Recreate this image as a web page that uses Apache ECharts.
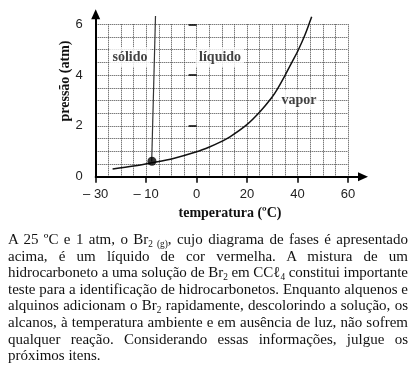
<!DOCTYPE html>
<html><head><meta charset="utf-8">
<script src="https://cdn.jsdelivr.net/npm/echarts@6/dist/echarts.min.js"></script>
<style>
html,body{margin:0;padding:0;background:#fff;width:410px;height:372px;overflow:hidden}
#chart{position:absolute;left:0;top:0;width:410px;height:372px}
#text{position:absolute;left:8px;top:231px;width:400px;font-family:'Liberation Serif','Times New Roman',serif;font-size:15px;line-height:16.6px;color:#111}
.ln{white-space:nowrap;width:400px;height:16.6px}
.ln span{display:inline-block;white-space:nowrap}
sub{font-size:0.62em;line-height:0;vertical-align:-0.3em}
</style></head><body>
<div id="chart"></div>
<div id="text"></div>
<script>
// ---- data ----
const xTickValues = [-40, -20, 0, 20, 40, 60];
const xTickLabels = ['– 30', '– 10', '0', '20', '40', '60'];
const yTickValues = [0, 2, 4, 6];
const vaporCurve = [
  [-33.3, 0.30], [-25, 0.42], [-17.7, 0.55], [-9.2, 0.72], [0, 0.98],
  [5.3, 1.18], [9.3, 1.36], [13.2, 1.57], [19.8, 2.04], [25.1, 2.56],
  [29.8, 3.12], [32, 3.45], [35, 3.98], [38, 4.55], [40.3, 4.99], [43, 5.6], [45.6, 6.30]
];
const fusionLine = [[-17.8, 0.6], [-16.3, 6.33]];
const triplePoint = [[-17.7, 0.61]];
const regionNames = ['sólido', 'líquido', 'vapor'];
const regionPos = [[-26.4, 4.71], [9.3, 4.71], [40.6, 3.02]];
const xTitle = 'temperatura (ºC)';
const yTitle = 'pressão (atm)';
const paragraphLines = [
  'A 25 ºC e 1 atm, o Br<sub>2 (g)</sub>, cujo diagrama de fases é apresentado',
  'acima, é um líquido de cor vermelha. A mistura de um',
  'hidrocarboneto a uma solução de Br<sub>2</sub> em CCℓ<sub>4</sub> constitui importante',
  'teste para a identificação de hidrocarbonetos. Enquanto alquenos e',
  'alquinos adicionam o Br<sub>2</sub> rapidamente, descolorindo a solução, os',
  'alcanos, à temperatura ambiente e em ausência de luz, não sofrem',
  'qualquer reação. Considerando essas informações, julgue os',
  'próximos itens.'
];

// ---- paragraph ----
const textDiv = document.getElementById('text');
paragraphLines.forEach((html, i) => {
  const ln = document.createElement('div');
  ln.className = 'ln';
  const sp = document.createElement('span');
  sp.innerHTML = html;
  ln.appendChild(sp);
  textDiv.appendChild(ln);
  if (i < paragraphLines.length - 1) {
    const w = sp.getBoundingClientRect().width;
    const target = 400;
    if (w > target) {
      const n = sp.textContent.length;
      sp.style.letterSpacing = ((target - w) / n) + 'px';
    } else {
      const spaces = (sp.textContent.match(/ /g) || []).length;
      if (spaces) sp.style.wordSpacing = ((target - w) / spaces) + 'px';
    }
  }
});

// ---- chart ----
const serif = "'Liberation Serif','Times New Roman',serif";
const sans = "'Liberation Sans',Arial,sans-serif";
const plotGrid = {left: 95.7, right: 62, top: 24.3, bottom: 195.3};
const chart = echarts.init(document.getElementById('chart'), null, {renderer: 'canvas'});
const hidden = {axisLine: {show: false}, axisTick: {show: false}, axisLabel: {show: false}, splitLine: {show: false}};
const gridLineStyle = {type: [1, 1], color: '#444', width: 1};
const option = {
  animation: false,
  grid: [
    plotGrid,
    {left: 95.7, right: 47, top: 14.3, bottom: 195.3},
    plotGrid
  ],
  xAxis: [
    Object.assign({type: 'value', gridIndex: 0, min: -40, max: 60, interval: 5}, hidden,
      {splitLine: {show: true, lineStyle: gridLineStyle}}),
    Object.assign({type: 'value', gridIndex: 1, min: 0, max: 1}, hidden,
      {axisLine: {show: true, onZero: false, symbol: ['none', 'triangle'], symbolSize: [9, 10], lineStyle: {color: '#000', width: 2}}}),
    Object.assign({type: 'value', gridIndex: 2, min: -40, max: 60}, hidden, {
      axisTick: {show: true, customValues: xTickValues, length: 6, lineStyle: {color: '#000', width: 1.5}},
      axisLabel: {show: true, customValues: xTickValues, margin: 11,
        formatter: v => { const k = xTickValues.indexOf(v); return k >= 0 ? xTickLabels[k] : ''; },
        fontFamily: sans, fontSize: 13, color: '#222'}})
  ],
  yAxis: [
    Object.assign({type: 'value', gridIndex: 0, min: 0, max: 6, interval: 0.5}, hidden,
      {splitLine: {show: true, lineStyle: gridLineStyle}}),
    Object.assign({type: 'value', gridIndex: 1, min: 0, max: 1}, hidden,
      {axisLine: {show: true, onZero: false, symbol: ['none', 'triangle'], symbolSize: [9, 10], lineStyle: {color: '#000', width: 2}}}),
    Object.assign({type: 'value', gridIndex: 2, min: 0, max: 6}, hidden, {
      axisTick: {show: true, customValues: yTickValues, length: 8, lineStyle: {color: '#000', width: 1.5}},
      axisLabel: {show: true, customValues: yTickValues, margin: 13, fontFamily: sans, fontSize: 13, color: '#222'}})
  ],
  graphic: [
    {type: 'text', x: 230, y: 213, z: 10,
     style: {text: xTitle, font: 'bold 14px ' + serif, fill: '#111', align: 'center', verticalAlign: 'middle'}},
    {type: 'text', x: 65, y: 81, rotation: Math.PI / 2, z: 10,
     style: {text: yTitle, font: 'bold 14px ' + serif, fill: '#111', align: 'center', verticalAlign: 'middle'}}
  ],
  series: [
    {type: 'line', xAxisIndex: 0, yAxisIndex: 0, data: vaporCurve, smooth: 0.3, symbol: 'none', clip: false,
     lineStyle: {color: '#111', width: 1.5}, z: 3},
    {type: 'line', xAxisIndex: 0, yAxisIndex: 0, data: fusionLine, symbol: 'none', clip: false,
     lineStyle: {color: '#333', width: 1.2}, z: 3},
    {type: 'scatter', xAxisIndex: 0, yAxisIndex: 0, data: triplePoint, symbolSize: 9,
     itemStyle: {color: '#000'}, z: 5},
    {type: 'scatter', xAxisIndex: 0, yAxisIndex: 0, symbolSize: 0, z: 4,
     data: regionNames.map((n, i) => ({name: n, value: regionPos[i]})),
     label: {show: true, position: 'inside', formatter: '{b}', fontFamily: serif, fontWeight: 'bold',
       fontSize: 14, color: '#111', backgroundColor: '#fff', padding: [3, 3]}}
  ]
};
chart.setOption(option);
</script>
</body></html>
